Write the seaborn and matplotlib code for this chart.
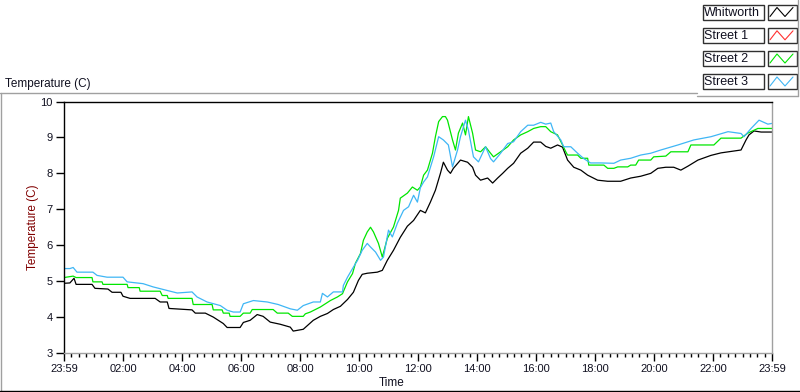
import matplotlib
matplotlib.use("Agg")
import matplotlib.pyplot as plt
from matplotlib.lines import Line2D
from matplotlib.patches import Rectangle
from matplotlib.ticker import MultipleLocator
import seaborn as sns
import pandas as pd

# ---------------- data (hours since 23:59, temperature in C) ----------------
whitworth_t = [0.00, 0.20, 0.34, 0.41, 0.95, 1.05, 1.49, 1.63, 1.93, 2.00, 2.24, 3.09, 3.26, 3.50,
               3.56, 4.34, 4.45, 4.79, 5.06, 5.40, 5.53, 5.97, 6.08, 6.31, 6.55, 6.75, 6.99, 7.33,
               7.67, 7.77, 8.11, 8.45, 8.69, 8.93, 9.13, 9.37, 9.61, 9.81, 9.98, 10.11, 10.28,
               10.62, 10.79, 10.96, 11.17, 11.40, 11.64, 11.85, 12.08, 12.25, 12.42, 12.59, 12.76,
               12.86, 13.00, 13.10, 13.20, 13.44, 13.68, 13.85, 13.95, 14.12, 14.36, 14.53, 14.70,
               14.87, 15.04, 15.24, 15.48, 15.72, 15.92, 16.16, 16.33, 16.50, 16.73, 16.90, 17.07,
               17.28, 17.52, 17.75, 18.09, 18.43, 18.87, 19.21, 19.55, 19.89, 20.13, 20.40, 20.67,
               20.91, 21.15, 21.49, 21.93, 22.27, 22.95, 23.12, 23.22, 23.39, 23.63, 24.00]
whitworth_v = [4.94, 4.95, 5.08, 4.91, 4.91, 4.80, 4.78, 4.69, 4.69, 4.58, 4.52, 4.52, 4.42, 4.42,
               4.24, 4.20, 4.11, 4.11, 4.00, 3.82, 3.71, 3.71, 3.85, 3.91, 4.07, 4.02, 3.86, 3.80,
               3.72, 3.61, 3.66, 3.91, 4.02, 4.10, 4.21, 4.30, 4.49, 4.69, 5.02, 5.19, 5.22,
               5.25, 5.30, 5.58, 5.86, 6.22, 6.53, 6.69, 6.97, 6.90, 7.20, 7.53, 8.00,
               8.31, 8.09, 8.00, 8.14, 8.37, 8.31, 8.17, 7.95, 7.81, 7.87, 7.73, 7.87,
               8.00, 8.14, 8.28, 8.56, 8.70, 8.87, 8.87, 8.75, 8.70, 8.79, 8.73, 8.37,
               8.17, 8.09, 7.95, 7.81, 7.78, 7.78, 7.87, 7.92, 8.00, 8.14, 8.17, 8.17,
               8.09, 8.20, 8.37, 8.50, 8.57, 8.65, 8.93, 9.07, 9.18, 9.15, 9.15]

street2_t = [0.00, 0.31, 0.41, 0.95, 0.98, 1.29, 1.32, 2.14, 2.17, 2.55, 2.58, 3.26, 3.33, 3.50,
             3.53, 4.34, 4.38, 5.02, 5.06, 5.36, 5.40, 5.60, 5.63, 5.97, 6.08, 6.31, 6.38, 7.09,
             7.23, 7.60, 7.74, 8.11, 8.18, 8.35, 8.69, 9.03, 9.27, 9.44, 9.61, 9.78, 9.88, 10.05,
             10.15, 10.28, 10.39, 10.49, 10.66, 10.79, 10.96, 11.17, 11.34, 11.40, 11.64, 11.81,
             11.98, 12.08, 12.19, 12.32, 12.49, 12.59, 12.70, 12.83, 12.93, 13.00, 13.17, 13.27,
             13.37, 13.51, 13.61, 13.71, 13.85, 13.95, 14.12, 14.29, 14.46, 14.56, 14.80, 15.04,
             15.24, 15.48, 15.72, 15.92, 16.16, 16.33, 16.50, 16.73, 16.90, 17.01, 17.07, 17.41,
             17.52, 17.75, 17.79, 18.30, 18.43, 18.64, 18.77, 19.11, 19.21, 19.38, 19.48, 19.89,
             19.99, 20.40, 20.57, 21.15, 21.25, 22.03, 22.27, 22.95, 23.18, 23.52, 24.00]
street2_v = [5.10, 5.14, 5.10, 5.10, 4.98, 4.98, 4.91, 4.91, 4.82, 4.82, 4.72, 4.72, 4.60, 4.60,
             4.52, 4.52, 4.35, 4.35, 4.20, 4.20, 4.11, 4.11, 4.02, 4.02, 4.11, 4.11, 4.21, 4.21,
             4.11, 4.11, 4.02, 4.02, 4.09, 4.14, 4.28, 4.46, 4.56, 4.65, 4.98, 5.21, 5.50, 5.77,
             6.14, 6.37, 6.50, 6.37, 6.05, 5.67, 6.19, 6.51, 6.97, 7.31, 7.45, 7.62,
             7.53, 7.62, 7.95, 8.09, 8.56, 9.02, 9.44, 9.58, 9.58, 9.48, 8.93, 8.65,
             9.12, 9.40, 9.07, 9.58, 9.12, 8.65, 8.60, 8.74, 8.56, 8.46, 8.60, 8.74,
             8.93, 9.07, 9.16, 9.25, 9.30, 9.30, 9.16, 9.07, 8.79, 8.60, 8.51, 8.51,
             8.42, 8.42, 8.23, 8.23, 8.14, 8.14, 8.18, 8.18, 8.23, 8.23, 8.37, 8.37,
             8.46, 8.48, 8.60, 8.60, 8.79, 8.79, 8.98, 8.98, 9.12, 9.25, 9.25]

street3_t = [0.00, 0.20, 0.31, 0.44, 0.98, 1.12, 1.46, 2.00, 2.14, 2.68, 3.02, 3.50, 3.84, 4.34,
             4.51, 4.85, 5.30, 5.53, 5.74, 5.97, 6.08, 6.42, 6.89, 7.26, 7.67, 7.91, 8.11, 8.45,
             8.69, 8.76, 8.93, 9.13, 9.44, 9.47, 9.61, 9.81, 9.95, 10.11, 10.28, 10.39, 10.56,
             10.73, 10.83, 11.00, 11.13, 11.30, 11.51, 11.68, 11.85, 11.98, 12.08, 12.19, 12.32,
             12.53, 12.70, 12.86, 13.03, 13.17, 13.34, 13.44, 13.61, 13.71, 13.88, 14.05, 14.29,
             14.46, 14.56, 14.80, 15.04, 15.24, 15.48, 15.72, 15.92, 16.16, 16.33, 16.50, 16.60,
             16.84, 16.94, 17.18, 17.41, 17.62, 17.85, 18.19, 18.64, 18.87, 19.21, 19.55, 19.89,
             20.23, 20.81, 21.35, 21.93, 22.51, 22.95, 23.05, 23.29, 23.56, 23.86, 24.00]
street3_v = [5.35, 5.35, 5.38, 5.25, 5.25, 5.16, 5.11, 5.11, 4.98, 4.93, 4.84, 4.74, 4.67, 4.70,
             4.56, 4.42, 4.32, 4.19, 4.14, 4.14, 4.37, 4.46, 4.42, 4.35, 4.23, 4.19, 4.32, 4.42,
             4.42, 4.66, 4.56, 4.70, 4.70, 4.88, 5.11, 5.39, 5.58, 5.86, 6.05, 5.95, 5.81,
             5.58, 5.67, 6.42, 6.23, 6.61, 6.97, 7.07, 7.39, 7.20, 7.60, 7.76, 7.90,
             8.46, 9.02, 8.93, 8.79, 8.18, 8.65, 9.02, 9.48, 9.20, 8.46, 8.32, 8.74,
             8.41, 8.32, 8.56, 8.83, 8.88, 9.16, 9.34, 9.34, 9.42, 9.37, 9.40, 9.16,
             8.93, 8.74, 8.74, 8.56, 8.41, 8.29, 8.29, 8.28, 8.37, 8.42, 8.51, 8.56,
             8.65, 8.79, 8.93, 9.02, 9.16, 9.11, 9.02, 9.25, 9.48, 9.37, 9.39]

series_names = ["Whitworth", "Street 1", "Street 2", "Street 3"]
series_colors = ["#000000", "#ff3030", "#00e600", "#3fb6f5"]

x_tick_hours = [0, 2, 4, 6, 8, 10, 12, 14, 16, 18, 20, 22, 24]
x_tick_labels = ["23:59", "02:00", "04:00", "06:00", "08:00", "10:00", "12:00",
                 "14:00", "16:00", "18:00", "20:00", "22:00", "23:59"]
y_ticks = [3, 4, 5, 6, 7, 8, 9, 10]

# ---------------- figure ----------------
sns.set_theme(style="white")
plt.rcParams["font.family"] = ["Liberation Sans", "DejaVu Sans"]

W, H = 800, 392
fig = plt.figure(figsize=(W / 100, H / 100), dpi=100)
fig.patch.set_facecolor("white")

def fx(x):
    return x / W

def fy(y):
    return 1 - y / H

ax_l, ax_r, ax_t, ax_b = 64, 772, 101.5, 353
ax = fig.add_axes([fx(ax_l), fy(ax_b), (ax_r - ax_l) / W, (ax_b - ax_t) / H])
ax.set_facecolor("white")

df = pd.concat([
    pd.DataFrame({"t": whitworth_t, "v": whitworth_v, "s": "Whitworth"}),
    pd.DataFrame({"t": street2_t, "v": street2_v, "s": "Street 2"}),
    pd.DataFrame({"t": street3_t, "v": street3_v, "s": "Street 3"}),
], ignore_index=True)

pal = dict(zip(series_names, series_colors))
for name in ["Whitworth", "Street 2", "Street 3"]:
    sns.lineplot(data=df[df["s"] == name], x="t", y="v", color=pal[name], ax=ax,
                 estimator=None, sort=False, linewidth=0.9, legend=False)

ax.set_xlim(0, 24)
ax.set_ylim(3, 10)
ax.set_xticks(x_tick_hours)
ax.set_xticklabels(x_tick_labels)
ax.xaxis.set_minor_locator(MultipleLocator(0.25))
ax.set_yticks(y_ticks)
ax.set_yticklabels([str(v) for v in y_ticks])

ax.tick_params(axis="x", which="major", direction="out", length=6, width=1,
               color="black", labelsize=8, pad=2, labelcolor="#101020", bottom=True)
ax.tick_params(axis="x", which="minor", direction="out", length=3, width=1,
               color="black", bottom=True)
ax.tick_params(axis="y", which="major", direction="out", length=6, width=1,
               color="black", labelsize=8, pad=2, labelcolor="#101020", left=True)

for side, col in [("left", "black"), ("top", "black"), ("bottom", "#a0a0a0"), ("right", "#a0a0a0")]:
    ax.spines[side].set_visible(True)
    ax.spines[side].set_color(col)
    ax.spines[side].set_linewidth(1.0)

ax.set_xlabel("Time", fontsize=8.5, color="#101020")
ax.xaxis.set_label_coords(0.463, -0.097)
ax.set_ylabel("Temperature (C)", fontsize=8.5, color="#800000")
ax.yaxis.set_label_coords(-0.036, 0.5)
ax.grid(False)

# title at top-left
fig.text(fx(5), fy(87), "Temperature (C)", fontsize=8.5, color="#101020", ha="left", va="baseline")

# panel frame lines
gray = "#a0a0a0"
fig.add_artist(Line2D([fx(0), fx(697)], [fy(92.5), fy(92.5)], color=gray, lw=1.0))
fig.add_artist(Line2D([fx(0.5), fx(0.5)], [fy(92.5), fy(391)], color=gray, lw=1.0))
fig.add_artist(Line2D([fx(0), fx(800)], [fy(390.5), fy(390.5)], color="black", lw=1.0))
fig.add_artist(Line2D([fx(697), fx(798)], [fy(95.5), fy(95.5)], color=gray, lw=1.0))
fig.add_artist(Line2D([fx(797.5), fx(797.5)], [fy(0), fy(95.5)], color=gray, lw=1.0))

# legend panel
row_tops = [4.5, 27.8, 51, 74]
for name, col, top in zip(series_names, series_colors, row_tops):
    h = 15
    fig.add_artist(Rectangle((fx(702.5), fy(top + h)), 61 / W, h / H, facecolor="white",
                             edgecolor="#303030", lw=1.0))
    fig.add_artist(Rectangle((fx(767.5), fy(top + h)), 29 / W, h / H, facecolor="white",
                             edgecolor="#303030", lw=1.0))
    fig.text(fx(704), fy(top + h / 2 + 0.5), name, fontsize=9, color="#101020",
             ha="left", va="center")
    xs = [770, 777, 785, 793]
    ys = [top + 12, top + 3, top + 12, top + 3]
    fig.add_artist(Line2D([fx(v) for v in xs], [fy(v) for v in ys], color=col, lw=0.8))

fig.savefig("out.png", dpi=100, facecolor="white")
